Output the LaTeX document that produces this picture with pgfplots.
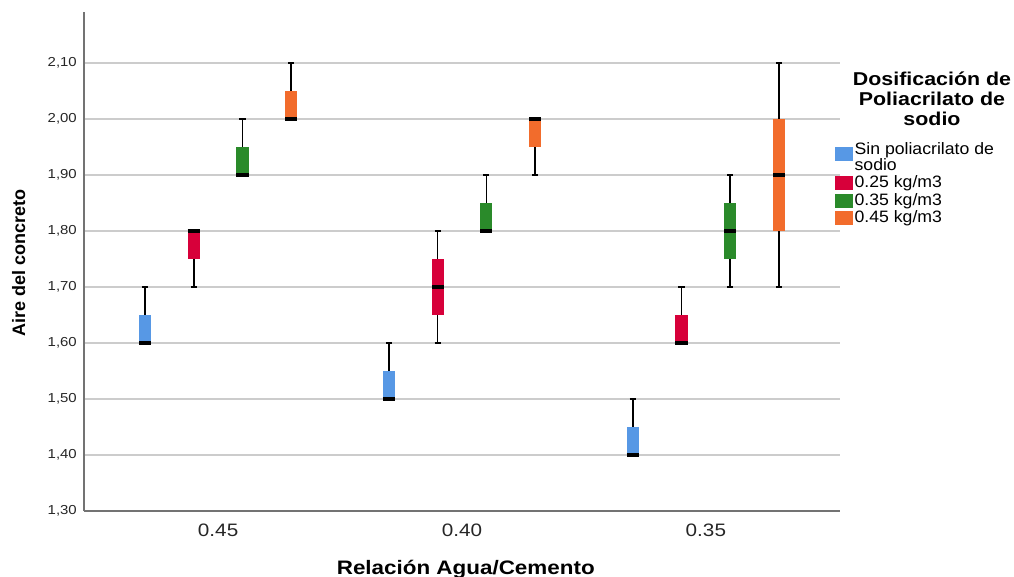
\documentclass[border=0pt]{standalone}
\usepackage{pgfplots}
\pgfplotsset{compat=1.18}
\usepgfplotslibrary{statistics}
\usepackage{fontspec}
\setmainfont{Liberation Sans}
\newfontfamily\strfont[FakeStretch=1.15]{Liberation Sans}
\newfontfamily\legfont[FakeStretch=1.07]{Liberation Sans}
\definecolor{cblue}{RGB}{87,152,229}
\definecolor{cred}{RGB}{215,0,58}
\definecolor{cgreen}{RGB}{42,138,42}
\definecolor{corange}{RGB}{242,108,44}
\pgfplotsset{
  bx/.style={solid, mark=none, draw=black, forget plot,
    boxplot/draw direction=y,
    boxplot/every box/.style={draw=none, fill=#1},
    boxplot/every whisker/.style={black, line width=1.7pt},
    boxplot/every median/.style={black, line width=3.2pt}},
}
\begin{document}
\begin{tikzpicture}
\begin{axis}[
  at={(0pt,0pt)}, anchor=south west,
  scale only axis, width=756pt, height=499pt,
  xmin=0.45, xmax=3.55, ymin=1.3, ymax=2.191,
  axis x line*=bottom, axis y line*=left,
  axis line style={-, draw=black!55, line width=1.2pt},
  major tick length=0pt,
  ymajorgrids, grid style={draw=black!20, line width=1.3pt},
  ytick={1.3,1.4,1.5,1.6,1.7,1.8,1.9,2.0,2.1},
  xtick={1,2,3}, xticklabels={0.45,0.40,0.35},
  yticklabel style={font=\strfont\fontsize{13}{13}\selectfont, anchor=east, inner sep=0pt, xshift=-7pt, text=black!85,
    /pgf/number format/.cd, fixed, fixed zerofill, precision=2, use comma, assume math mode=true},
  xticklabel style={font=\strfont\fontsize{18}{18}\selectfont, anchor=north, inner sep=0pt, yshift=-13pt, text=black!85},
  xlabel={Relación Agua/Cemento},
  xlabel style={font=\strfont\bfseries\fontsize{19.5}{20}\selectfont, at={(axis description cs:0.505,-0.1263)}, anchor=base},
  ylabel={Aire del concreto},
  ylabel style={font=\bfseries\fontsize{18}{18}\selectfont, at={(axis description cs:-0.078,0.497)}, anchor=base, rotate=0},
  legend style={at={(axis description cs:0.9934,0.7435)}, anchor=north west, draw=none, fill=none,
    inner sep=0pt, row sep=0pt, column sep=0pt,
    font=\legfont\fontsize{16.5}{14.5}\selectfont,
    nodes={inner xsep=2pt, inner ysep=2pt, align=left}},
  legend cell align=left,
  clip=false,
]
\addlegendimage{legend image code/.code={\fill[cblue] (0pt,-3.5pt) rectangle (17pt,9.5pt);}}
\addlegendentry{Sin poliacrilato de\\sodio}
\addlegendimage{legend image code/.code={\fill[cred] (0pt,-6.5pt) rectangle (17pt,6.5pt);}}
\addlegendentry{0.25 kg/m3}
\addlegendimage{legend image code/.code={\fill[cgreen] (0pt,-6.5pt) rectangle (17pt,6.5pt);}}
\addlegendentry{0.35 kg/m3}
\addlegendimage{legend image code/.code={\fill[corange] (0pt,-6.5pt) rectangle (17pt,6.5pt);}}
\addlegendentry{0.45 kg/m3}
% Relacion 0.45
\addplot[bx=cblue, boxplot prepared={draw position=0.7, lower whisker=1.60, lower quartile=1.60, median=1.60, upper quartile=1.65, upper whisker=1.70, box extend=0.05, whisker extend=0.025}] coordinates {};
\addplot[bx=cred, boxplot prepared={draw position=0.9, lower whisker=1.70, lower quartile=1.75, median=1.80, upper quartile=1.80, upper whisker=1.80, box extend=0.05, whisker extend=0.025}] coordinates {};
\addplot[bx=cgreen, boxplot prepared={draw position=1.1, lower whisker=1.90, lower quartile=1.90, median=1.90, upper quartile=1.95, upper whisker=2.00, box extend=0.05, whisker extend=0.025}] coordinates {};
\addplot[bx=corange, boxplot prepared={draw position=1.3, lower whisker=2.00, lower quartile=2.00, median=2.00, upper quartile=2.05, upper whisker=2.10, box extend=0.05, whisker extend=0.025}] coordinates {};
% Relacion 0.40
\addplot[bx=cblue, boxplot prepared={draw position=1.7, lower whisker=1.50, lower quartile=1.50, median=1.50, upper quartile=1.55, upper whisker=1.60, box extend=0.05, whisker extend=0.025}] coordinates {};
\addplot[bx=cred, boxplot prepared={draw position=1.9, lower whisker=1.60, lower quartile=1.65, median=1.70, upper quartile=1.75, upper whisker=1.80, box extend=0.05, whisker extend=0.025}] coordinates {};
\addplot[bx=cgreen, boxplot prepared={draw position=2.1, lower whisker=1.80, lower quartile=1.80, median=1.80, upper quartile=1.85, upper whisker=1.90, box extend=0.05, whisker extend=0.025}] coordinates {};
\addplot[bx=corange, boxplot prepared={draw position=2.3, lower whisker=1.90, lower quartile=1.95, median=2.00, upper quartile=2.00, upper whisker=2.00, box extend=0.05, whisker extend=0.025}] coordinates {};
% Relacion 0.35
\addplot[bx=cblue, boxplot prepared={draw position=2.7, lower whisker=1.40, lower quartile=1.40, median=1.40, upper quartile=1.45, upper whisker=1.50, box extend=0.05, whisker extend=0.025}] coordinates {};
\addplot[bx=cred, boxplot prepared={draw position=2.9, lower whisker=1.60, lower quartile=1.60, median=1.60, upper quartile=1.65, upper whisker=1.70, box extend=0.05, whisker extend=0.025}] coordinates {};
\addplot[bx=cgreen, boxplot prepared={draw position=3.1, lower whisker=1.70, lower quartile=1.75, median=1.80, upper quartile=1.85, upper whisker=1.90, box extend=0.05, whisker extend=0.025}] coordinates {};
\addplot[bx=corange, boxplot prepared={draw position=3.3, lower whisker=1.70, lower quartile=1.80, median=1.90, upper quartile=2.00, upper whisker=2.10, box extend=0.05, whisker extend=0.025}] coordinates {};
\end{axis}
\node[anchor=base, align=center, font=\strfont\bfseries\fontsize{18.6}{20}\selectfont] at (848pt,385pt) {Dosificación de\\Poliacrilato de\\sodio};
\pgfresetboundingbox
\path[use as bounding box] (-84pt,-65pt) rectangle (930pt,511pt);
\end{tikzpicture}
\end{document}
